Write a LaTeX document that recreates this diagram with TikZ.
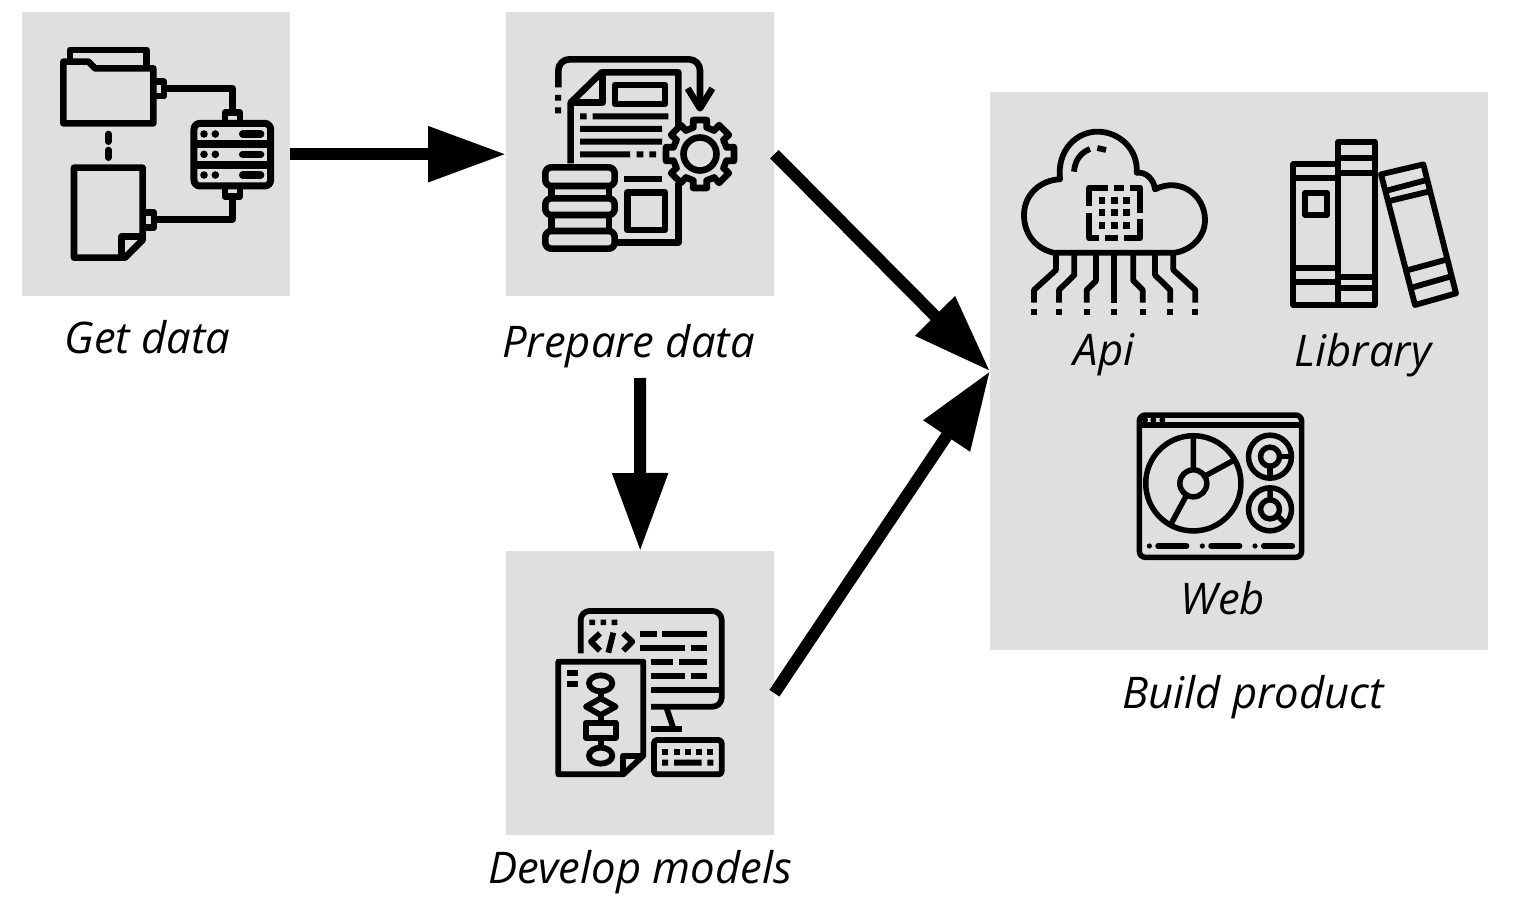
\documentclass[tikz,border=0pt]{standalone}
\usepackage{fontspec}
\setmainfont{Open Sans}
\usetikzlibrary{arrows.meta}
\definecolor{panel}{HTML}{DFDFDF}
\tikzset{
  panelbox/.style={fill=panel,draw=none,inner sep=0pt,minimum width=268pt,minimum height=284pt,anchor=north west},
  lab/.style={font=\fontsize{43.6}{47}\selectfont\itshape,inner sep=0pt,text=black},
  bigarrow/.style={line width=12pt,draw=black,-{Triangle[length=78pt,width=53pt]}},
  ic/.style={line width=6.6pt,line join=round,draw=black},
  fg/.style={ic,fill=panel},
  zoomA/.style={x=0.33333pt,y=-0.33333pt}
}
\begin{document}
\begin{tikzpicture}[x=1pt,y=-1pt]
\useasboundingbox (0,0) rectangle (1519,915);
\node[panelbox] (get) at (22,12) {};
\node[panelbox] (prep) at (506,12) {};
\node[panelbox] (dev) at (506,551) {};
\node[panelbox,minimum width=498pt,minimum height=558pt] (build) at (990,92) {};

\node[lab] (lget) at (147.5,337) {Get data};
\node[lab] (lprep) at (628.5,346) {Prepare data};
\node[lab] (ldev) at (640,872) {Develop models};
\node[lab] (lapi) at (1104,355) {Api};
\node[lab] (llib) at (1363,355) {Library};
\node[lab] (lweb) at (1223,598) {Web};
\node[lab] (lbuild) at (1253,697) {Build product};

\coordinate (pstart) at (640,378);
\draw[bigarrow] (get.east) -- (prep.west |- get.east);
\draw[bigarrow] (prep.east |- get.east) -- (build.west);
\draw[bigarrow] (pstart) -- (dev.north |- dev.north);
\draw[bigarrow] (dev.east) -- (build.west);

% Get data icon
\begin{scope}[shift={(20,10)},zoomA]
\draw[ic] (130,340) -- (130,155) -- (205,155) -- (225,175) -- (400,175) -- (400,340) -- cycle;
\draw[ic] (150,150) -- (150,120) -- (380,120) -- (380,170);
\draw[ic] (400,215) -- (432,215) -- (432,258) -- (400,258);
\draw[ic] (432,235) -- (638,235) -- (638,305);
\draw[ic] (615,335) -- (615,308) -- (660,308) -- (660,335);
\draw[ic] (615,535) -- (615,560) -- (660,560) -- (660,535);
\draw[ic] (638,560) -- (638,628) -- (405,628);
\draw[ic] (370,608) -- (402,608) -- (402,652) -- (370,652);
\draw[ic,rounded corners=6pt,line width=7pt] (522,340) rectangle (752,528);
\draw[ic,line width=7.4pt] (522,402) -- (752,402) (522,465) -- (752,465);
\foreach \r in {372,433,495}{
  \fill (552,\r) circle[radius=3.8pt];
  \fill (586,\r) circle[radius=3.8pt];
  \draw[ic,line cap=round,line width=7.4pt] (668,\r) -- (722,\r);
}
\draw[ic] (162,473) -- (368,473) -- (368,690) -- (315,743) -- (162,743) -- cycle;
\draw[ic] (305,743) -- (305,680) -- (368,680);
\draw[ic,line cap=round] (265,372) -- (265,395) (265,420) -- (265,443);
\end{scope}

% Prepare data icon
\begin{scope}[shift={(510,30)},zoomA]
\draw[ic,rounded corners=11pt] (145,172) -- (145,88) -- (570,88) -- (570,235);
\draw[ic] (533,175) -- (570,235) -- (607,175);
\fill (135,195) rectangle (153,212) (135,232) rectangle (153,250);
\draw[ic] (182,400) -- (182,218) -- (275,127) -- (505,127) -- (505,295);
\draw[ic] (505,460) -- (505,637) -- (320,637);
\draw[ic] (182,218) -- (278,218) -- (278,127);
\draw[ic] (315,165) rectangle (465,222);
\fill (210,250) rectangle (230,268) (248,250) rectangle (475,268);
\fill (210,288) rectangle (456,306) (210,326) rectangle (456,344);
\fill (210,364) rectangle (360,382) (380,364) rectangle (400,382) (418,364) rectangle (438,382);
\fill (343,439) rectangle (456,457);
\draw[ic] (352,487) rectangle (465,600);
\begin{scope}[shift={(570,372)}]
\draw[fg] (-11.5:104)
  \foreach \a in {0,45,...,315}{ -- (\a-11.5:104) -- (\a+11.5:104) -- (\a+14:82) -- (\a+31:82) }
  -- cycle;
\draw[ic] (0,0) circle[radius=16.5pt];
\end{scope}
\draw[ic] (125,465) -- (125,505) (297,465) -- (297,505) (125,555) -- (125,603) (297,555) -- (297,603);
\draw[fg,rounded corners=6pt] (106,412) rectangle (314,468);
\draw[fg,rounded corners=6pt] (106,505) rectangle (314,555);
\draw[fg,rounded corners=6pt] (106,603) rectangle (314,656);
\end{scope}

% Develop models icon
\begin{scope}[shift={(530,590)},zoomA]
\tikzset{ic/.append style={line width=5.8pt}}
\draw[ic,rounded corners=9pt] (152,190) -- (152,63) -- (575,63) -- (575,350) -- (363,350);
\draw[ic] (363,300) -- (572,300);
\draw[ic] (410,355) -- (430,415);
\draw[ic] (363,417) -- (457,417);
\fill (178,89) rectangle (195,105) (212,89) rectangle (228,105) (245,89) rectangle (262,105);
\draw[ic] (210,130) -- (183,155) -- (210,182);
\draw[ic] (250,128) -- (235,188);
\draw[ic] (280,130) -- (307,155) -- (280,182);
\foreach \y/\a/\b/\c/\d in {131/330/380/397/532,173/330/465/482/532,215/363/430/448/532,257/363/465/482/532}{
  \draw[ic] (\a,\y) -- (\b,\y) (\c,\y) -- (\d,\y);
}
\draw[fg] (85,215) -- (340,215) -- (340,497) -- (280,553) -- (85,553) -- cycle;
\draw[ic] (280,553) -- (280,497) -- (340,497);
\draw[ic] (112,249) -- (145,249) (112,283) -- (145,283);
\draw[ic] (212,280) ellipse[x radius=35,y radius=24];
\draw[ic] (212,304) -- (212,325) (212,375) -- (212,398) (212,443) -- (212,473);
\draw[ic] (168,350) -- (212,325) -- (257,350) -- (212,375) -- cycle;
\draw[ic] (168,398) rectangle (257,443);
\draw[ic] (212,497) ellipse[x radius=35,y radius=24];
\draw[ic,rounded corners=3pt] (372,450) rectangle (575,553);
\foreach \x in {405,440,473,508,541}{ \fill (\x-9,476) rectangle (\x+9,494); }
\fill (396,509) rectangle (414,527) (432,509) rectangle (515,527) (532,509) rectangle (550,527);
\end{scope}

% Api icon
\begin{scope}[shift={(1010,120)},zoomA]
\tikzset{ic/.append style={line width=5.8pt}}
\draw[ic] (130,398) .. controls (75,385) and (42,340) .. (42,285)
  .. controls (42,225) and (90,180) .. (150,178)
  .. controls (140,90) and (200,35) .. (262,35)
  .. controls (330,35) and (385,90) .. (380,158)
  .. controls (410,155) and (432,180) .. (435,208)
  .. controls (510,170) and (585,225) .. (585,300)
  .. controls (585,350) and (545,390) .. (495,398) -- cycle;
\draw[ic] (192,155) .. controls (195,120) and (212,98) .. (240,87);
\draw[ic] (262,84) -- (288,90);
\draw[ic] (295,203) -- (238,203) -- (238,258);
\draw[ic] (313,203) -- (342,203);
\draw[ic] (360,203) -- (390,203) -- (390,278);
\draw[ic] (238,280) -- (238,355) -- (268,355);
\draw[ic] (285,355) -- (323,355);
\draw[ic] (342,355) -- (390,355) -- (390,298);
\foreach \x in {276,313,350}{\foreach \y in {241,278,316}{
  \fill (\x-10,\y-10) rectangle (\x+10,\y+10);
}}
\draw[ic] (138,405) -- (138,450) -- (72,510) -- (72,548);
\draw[ic] (193,405) -- (193,465) -- (147,510) -- (147,548);
\draw[ic] (258,405) -- (258,482) -- (230,510) -- (230,548);
\draw[ic] (313,405) -- (313,548);
\draw[ic] (370,405) -- (370,482) -- (398,510) -- (398,548);
\draw[ic] (435,405) -- (435,465) -- (481,510) -- (481,548);
\draw[ic] (490,405) -- (490,450) -- (556,510) -- (556,548);
\foreach \x in {72,147,230,313,398,481,556}{ \fill (\x-9,567) rectangle (\x+9,585); }
\end{scope}

% Library icon
\begin{scope}[shift={(1270,125)},zoomA]
\tikzset{ic/.append style={line width=5.8pt}}
\draw[ic] (70,118) rectangle (205,540);
\draw[ic] (70,160) -- (205,160) (70,430) -- (205,430) (70,472) -- (205,472);
\draw[ic] (105,203) rectangle (172,270);
\draw[ic] (205,50) rectangle (315,540);
\draw[ic] (205,100) -- (315,100) (205,143) -- (315,143) (205,455) -- (315,455) (205,488) -- (315,488);
\draw[ic] (333,148) -- (460,118) -- (558,505) -- (435,540) -- cycle;
\draw[ic] (350,197) -- (470,165) (358,228) -- (475,200) (415,435) -- (525,405) (428,487) -- (540,455);
\end{scope}

% Web icon
\begin{scope}[shift={(1125,400)},zoomA]
\tikzset{ic/.append style={line width=5.5pt}}
\draw[ic,rounded corners=6pt] (43,45) rectangle (530,472);
\draw[ic] (43,75) -- (530,75);
\foreach \x in {60,85,112}{ \fill (\x,60) circle[radius=3pt]; }
\draw[ic] (205,250) circle[radius=47.6pt];
\draw[ic] (205,250) circle[radius=13.5pt];
\draw[ic] (205,210) -- (205,110) (240,228) -- (328,180) (185,285) -- (138,372);
\draw[ic] (435,170) circle[radius=21.5pt];
\draw[ic] (435,170) circle[radius=9.5pt];
\draw[ic] (435,198) -- (435,235) (463,170) -- (498,170);
\draw[ic] (435,328) circle[radius=21.5pt];
\draw[ic] (435,328) circle[radius=9.5pt];
\draw[ic] (435,262) -- (435,300) (458,348) -- (482,370);
\foreach \x in {73,232,390}{
  \fill (\x,438) circle[radius=2.6pt];
  \draw[ic,line cap=round] (\x+26,438) -- (\x+112,438);
}
\end{scope}
\end{tikzpicture}
\end{document}
